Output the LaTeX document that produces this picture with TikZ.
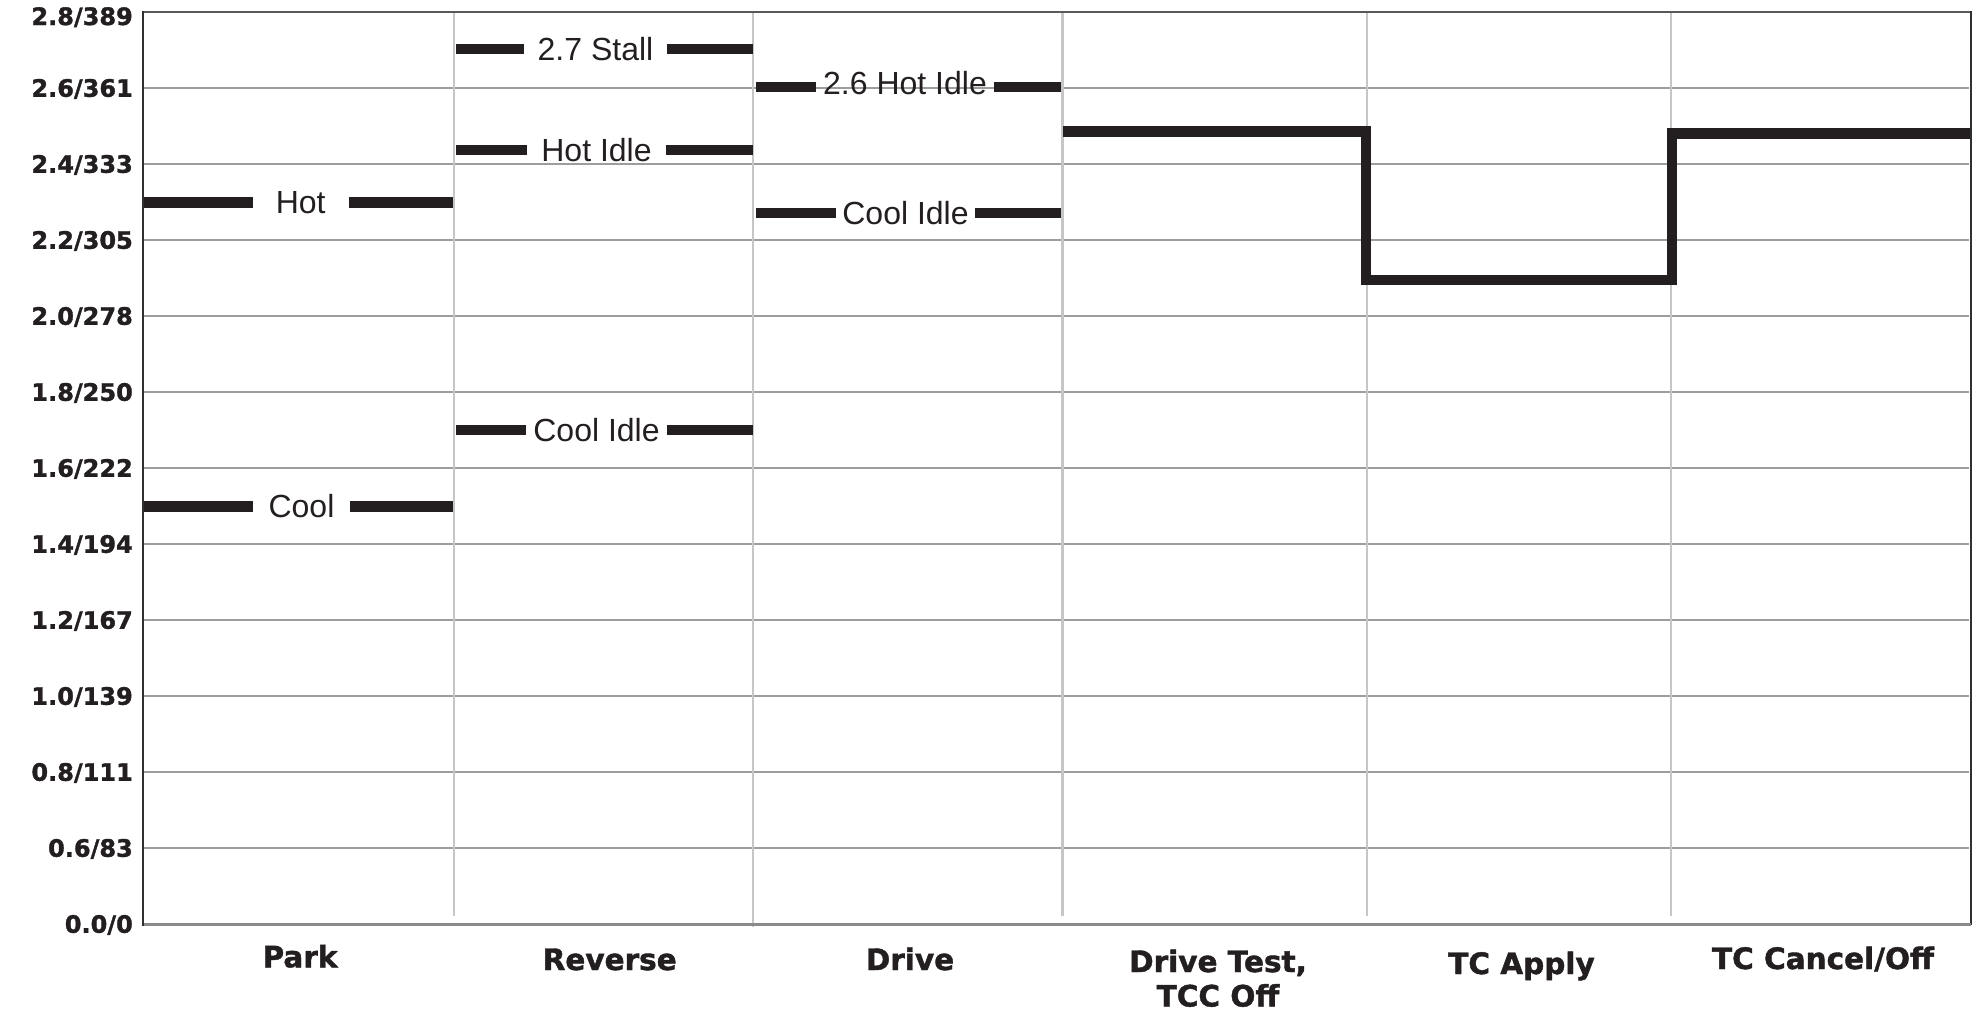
\documentclass[tikz,border=0pt]{standalone}
\usepackage{fontspec}
\setmainfont{Liberation Sans}
\newfontfamily\axisfont{DejaVu Sans}[BoldFeatures={FakeBold=1.4}]
\definecolor{barc}{HTML}{231F20}
\definecolor{gridc}{HTML}{9D9D9D}
\definecolor{divc}{HTML}{C6C6C6}
\definecolor{axisl}{HTML}{303030}
\definecolor{axisb}{HTML}{8A8A8A}
\definecolor{borderc}{HTML}{5A5A5A}
\tikzset{
  barline/.style={line width=10.5pt, draw=barc, line cap=butt},
  stepline/.style={line width=10.5pt, draw=barc, line join=miter, line cap=butt},
  gridh/.style={line width=2.6pt, draw=gridc},
  gridv/.style={line width=2.2pt, draw=divc},
  ylab/.style={anchor=base east, inner sep=0pt, text=barc,
    font=\axisfont\bfseries\fontsize{24}{28}\selectfont},
  clab/.style={anchor=base, inner sep=0pt, align=center, text=barc,
    font=\axisfont\bfseries\fontsize{29.5}{34.5}\selectfont},
  tlab/.style={inner ysep=0pt, text=barc, font=\fontsize{32}{38}\selectfont},
}
\begin{document}
\begin{tikzpicture}[x=1pt,y=-1pt]
\useasboundingbox (0,0) rectangle (1979,1013);
\fill[white] (0,0) rectangle (1979,1013);

% horizontal grid lines and y labels
\foreach \i/\a/\b in {1/2.6/361,2/2.4/333,3/2.2/305,4/2.0/278,5/1.8/250,6/1.6/222,7/1.4/194,8/1.2/167,9/1.0/139,10/0.8/111,11/0.6/83}{
  \draw[gridh] (143,12+76*\i) -- (1969,12+76*\i);
  \node[ylab] (yl\i) at (133,12+76*\i+8.75) {\a/\b};
}
\node[ylab] (yl0) at (133,25) {2.8/389};
\node[ylab] (yl12) at (133,932.75) {0.0/0};

% vertical dividers
\foreach \x in {454,1062.5,1366.7,1670.6}{
  \draw[gridv] (\x,13) -- (\x,916);
}
\draw[gridv] (753,13) -- (753,927);

% frame
\draw[line width=2.4pt, draw=borderc] (143,12) -- (1971,12);
\draw[line width=2.4pt, draw=axisl] (1971,11) -- (1971,925);
\draw[line width=3pt, draw=axisb] (143,924) -- (1971,924);

% Park
\node[tlab, inner xsep=23pt] (phot) at (300.7,202.5) {Hot};
\coordinate (phL) at (143,202.5); \coordinate (phR) at (453,202.5);
\draw[barline] (phL) -- (phot.west); \draw[barline] (phot.east) -- (phR);
\node[tlab, inner xsep=15pt] (pcool) at (301.5,506.5) {Cool};
\coordinate (pcL) at (143,506.5); \coordinate (pcR) at (453,506.5);
\draw[barline] (pcL) -- (pcool.west); \draw[barline] (pcool.east) -- (pcR);

% Reverse
\node[tlab, inner xsep=13pt] (rstall) at (595.5,49) {2.7 Stall};
\coordinate (rsL) at (455.5,49); \coordinate (rsR) at (752.5,49);
\draw[barline] (rsL) -- (rstall.west); \draw[barline] (rstall.east) -- (rsR);
\node[tlab, inner xsep=14.5pt] (rhot) at (596.5,150) {Hot Idle};
\coordinate (rhL) at (455.5,150); \coordinate (rhR) at (752.5,150);
\draw[barline] (rhL) -- (rhot.west); \draw[barline] (rhot.east) -- (rhR);
\node[tlab, inner xsep=7.5pt] (rcool) at (596.5,430) {Cool Idle};
\coordinate (rcL) at (455.5,430); \coordinate (rcR) at (752.5,430);
\draw[barline] (rcL) -- (rcool.west); \draw[barline] (rcool.east) -- (rcR);

% Drive
\node[tlab, inner xsep=7pt] (dhot) at (905,83.5) {2.6 Hot Idle};
\coordinate (dhL) at (755.5,87); \coordinate (dhR) at (1061,87);
\draw[barline] (dhL) -- (dhL -| dhot.west); \draw[barline] (dhR -| dhot.east) -- (dhR);
\node[tlab, inner xsep=6.5pt] (dcool) at (905.5,213) {Cool Idle};
\coordinate (dcL) at (755.5,213); \coordinate (dcR) at (1061,213);
\draw[barline] (dcL) -- (dcool.west); \draw[barline] (dcool.east) -- (dcR);

% step trace
\coordinate (s0) at (1063,131.3);
\coordinate (s1) at (1366,131.3);
\coordinate (s2) at (1366,280);
\coordinate (s3) at (1672,280);
\coordinate (s4) at (1672,133.7);
\coordinate (s5) at (1970,133.7);
\draw[stepline] (s0) -- (s1) -- (s2) -- (s3) -- (s4) -- (s5);

% left axis
\draw[line width=2.6pt, draw=axisl] (143,11) -- (143,925.5);

% column labels
\node[clab] (cpark) at (300,967.3) {Park};
\node[clab] (crev) at (609.7,970) {Reverse};
\node[clab] (cdrive) at (910,970) {Drive};
\node[clab] (ctest) at (1218,1006.5) {Drive Test,\\TCC Off};
\node[clab] (capply) at (1521.5,974) {TC Apply};
\node[clab] (ccancel) at (1823,969) {TC Cancel/Off};
\end{tikzpicture}
\end{document}
